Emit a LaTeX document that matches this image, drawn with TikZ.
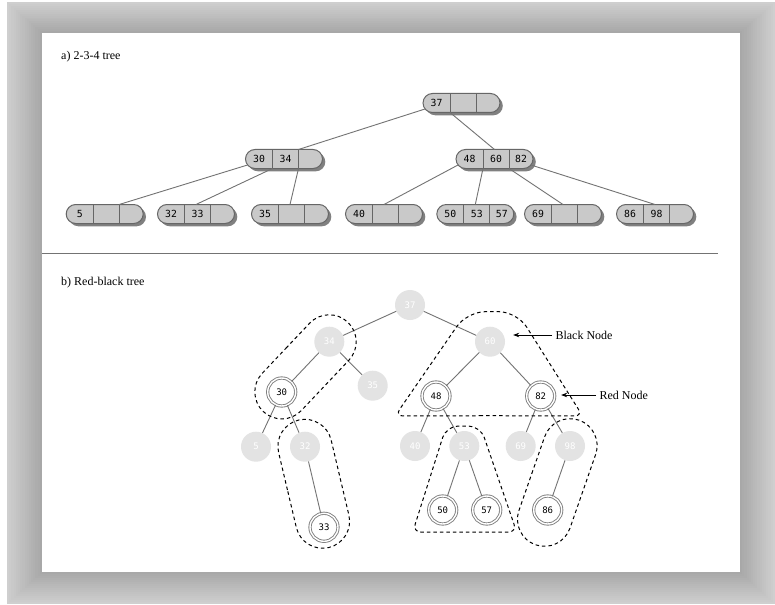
\documentclass[tikz,border=0pt]{standalone}
\usepackage{fontspec}
\setmainfont{Liberation Serif}
\newfontfamily\keyfont{DejaVu Sans Mono}
\usepackage{tikz}
\usetikzlibrary{positioning,arrows.meta,shapes.misc,shadows,calc}

% one 2-3-4 node: name, position, three keys
\newcommand{\keynode}[5]{%
  \node[keybox] (#1) at (#2) {};
  \node[keytext] (#1-t1) at ([xshift=13.5pt]#1.west) {#3};
  \node[keytext] (#1-t2) at ([xshift=40pt]#1.west) {#4};
  \node[keytext] (#1-t3) at ([xshift=65pt]#1.west) {#5};
  \draw[keyline] ([xshift=27pt,yshift=9.5pt]#1.west) -- ([xshift=27pt,yshift=-9.5pt]#1.west) coordinate (#1-a);
  \draw[keyline] ([xshift=53pt,yshift=9.5pt]#1.west) -- ([xshift=53pt,yshift=-9.5pt]#1.west) coordinate (#1-b);
  \coordinate (#1-l) at ([xshift=2pt,yshift=-6pt]#1.west);
  \coordinate (#1-r) at ([xshift=-2pt,yshift=-6pt]#1.east);
}

\begin{document}
\begin{tikzpicture}[
    x=1pt, y=-1pt,
    font=\fontsize{12}{14}\selectfont,
    caption/.style ={anchor=west, inner sep=0pt},
    keybox/.style  ={rounded rectangle, draw=black!60, line width=1pt, fill=black!21, minimum width=77pt, minimum height=19pt, inner sep=0pt, outer sep=0pt, drop shadow={shadow xshift=2.8pt, shadow yshift=-2.8pt, fill=black!50, opacity=1}},
    keytext/.style ={font=\keyfont\fontsize{9.8}{11}\selectfont, inner sep=0pt},
    keyline/.style ={draw=black!60, line width=1pt},
    link/.style    ={draw=black!55, line width=0.9pt},
    blk/.style     ={circle, fill=black!11, text=white, minimum size=30pt, inner sep=0pt, font=\keyfont\fontsize{9}{10}\selectfont},
    rednode/.style ={circle, draw=black!50, line width=0.9pt, double=white, double distance=1.4pt, fill=white, minimum size=28pt, inner sep=0pt, font=\keyfont\fontsize{9}{10}\selectfont},
    group/.style   ={draw=black, line width=1pt, dash pattern=on 3.5pt off 3pt},
    stadium/.style ={group, rounded rectangle, minimum height=54pt, inner sep=0pt, outer sep=0pt},
    pointer/.style ={-{Stealth[length=6pt,width=4.5pt]}, line width=0.7pt},
  ]
  \useasboundingbox (0,0) rectangle (775,604);
  % bevelled frame round the page
  \foreach \i in {0,...,15} {
    \pgfmathtruncatemacro{\tone}{19+\i}
    \fill[black!\tone] (7+2.19*\i,2+1.94*\i) rectangle (775-2.19*\i,604-2*\i);
  }
  \fill[white] (42,33) rectangle (740,572);

  % a) 2-3-4 tree
  \node[caption] (cap-a) at (61,57) {a) 2-3-4 tree};
  \keynode{r}{461.5,103}{37}{}{}
  \keynode{n1}{284,159}{30}{34}{}
  \keynode{n2}{494.5,159}{48}{60}{82}
  \keynode{la}{104.7,214}{5}{}{}
  \keynode{lb}{196,214}{32}{33}{}
  \keynode{lc}{290,214}{35}{}{}
  \keynode{ld}{384,214}{40}{}{}
  \keynode{le}{475.3,214}{50}{53}{57}
  \keynode{lf}{563,214}{69}{}{}
  \keynode{lg}{655,214}{86}{98}{}
  \draw[link] (r-l) -- (n1.north -| n1-b);
  \draw[link] (r-a) -- (n2.north);
  \draw[link] (n1-l) -- (la.north -| la-b);
  \draw[link] (n1-a) -- (lb.north);
  \draw[link] (n1-b) -- (lc.north);
  \draw[link] (n2-l) -- (ld.north);
  \draw[link] (n2-a) -- (le.north);
  \draw[link] (n2-b) -- (lf.north);
  \draw[link] (n2-r) -- (lg.north);

  % separator
  \draw[draw=black!55, line width=0.8pt] (42,253) -- (718,253);

  % b) red-black tree
  \node[caption] (cap-b) at (61,283) {b) Red-black tree};
  \node[blk]     (k37) at (410,305)     {37};
  \node[blk]     (k34) at (329.3,341.7) {34};
  \node[blk]     (k35) at (372.7,385.7) {35};
  \node[rednode] (k30) at (281.7,392)   {30};
  \node[blk]     (k60) at (490,341.7)   {60};
  \node[rednode] (k48) at (436,396)     {48};
  \node[rednode] (k82) at (540.7,396)   {82};
  \node[blk]     (k5)  at (256,446.7)   {5};
  \node[blk]     (k32) at (305,446.7)   {32};
  \node[rednode] (k33) at (324,527.3)   {33};
  \node[blk]     (k40) at (415,446)     {40};
  \node[blk]     (k53) at (464.3,446)   {53};
  \node[blk]     (k69) at (520.7,446)   {69};
  \node[blk]     (k98) at (570,446)     {98};
  \node[rednode] (k50) at (442.7,510)   {50};
  \node[rednode] (k57) at (486.7,510)   {57};
  \node[rednode] (k86) at (547.7,510)   {86};
  \foreach \a/\b in {37/34, 37/60, 34/30, 34/35, 30/5, 30/32, 32/33, 60/48, 60/82,
                     48/40, 48/53, 53/50, 53/57, 82/69, 82/98, 98/86}
    \draw[link] (k\a) -- (k\b);

  % dashed outlines: one per 2-3-4 node
  \node[stadium, minimum width=123pt, rotate=46.6]  (g-34) at ($(k34)!0.5!(k30)$)  {};
  \node[stadium, minimum width=131pt, rotate=103.3] (g-32) at ($(k32)!0.46!(k33)$) {};
  \node[stadium, minimum width=132pt, rotate=70.8]  (g-98) at ($(k98)!0.57!(k86)$) {};
  \draw[group] ($(k60)+(0,74)$) [rounded corners=8pt] -- ($(k48)+(-41,20)$)
               [rounded corners=18pt] -- ($(k60)+(-23,-30)$) -- ($(k60)+(27,-30)$)
               [rounded corners=8pt] -- ($(k82)+(42,20)$) -- cycle;
  \draw[group] ($(k53)+(0,86)$) [rounded corners=8pt] -- ($(k50)+(-30,22)$)
               [rounded corners=12pt] -- ($(k53)+(-18,-20)$) -- ($(k53)+(16,-20)$)
               [rounded corners=8pt] -- ($(k57)+(30,22)$) -- cycle;

  % labels
  \node[anchor=west] (lbl-black) at (552,335) {Black Node};
  \node[anchor=west] (lbl-red)   at (596,395) {Red Node};
  \coordinate[right=8pt of k60.east] (bn-tip);
  \coordinate[right=6pt of k82.east] (rn-tip);
  \draw[pointer] (lbl-black.west) -- (lbl-black.west -| bn-tip);
  \draw[pointer] (lbl-red.west) -- (lbl-red.west -| rn-tip);
\end{tikzpicture}
\end{document}
